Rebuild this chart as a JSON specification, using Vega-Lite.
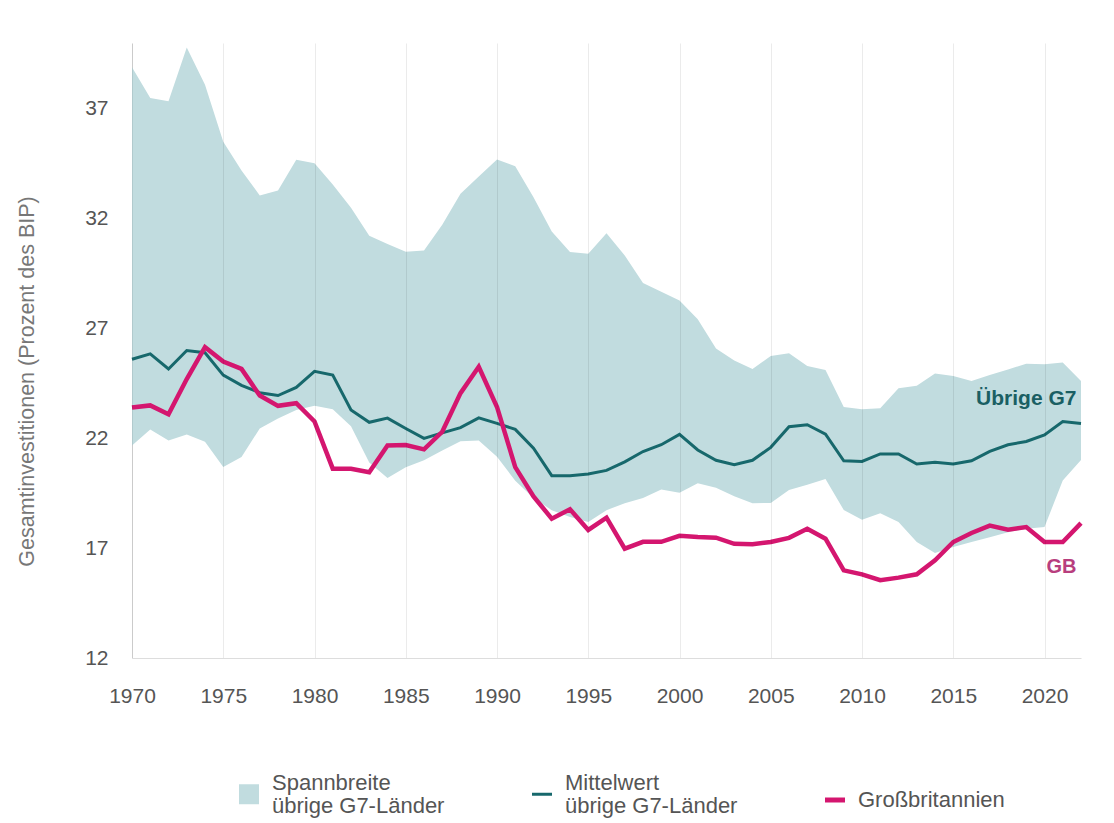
{
  "$schema": "https://vega.github.io/schema/vega-lite/v6.json",
  "autosize": "none",
  "width": 949,
  "height": 615,
  "padding": {"left": 132, "top": 43, "right": 33, "bottom": 165},
  "background": "white",
  "datasets": {
    "g7": [
      {"year": 1970, "low": 21.67, "high": 38.9, "mean": 25.6, "gb": 23.4},
      {"year": 1971, "low": 22.4, "high": 37.5, "mean": 25.85, "gb": 23.5},
      {"year": 1972, "low": 21.9, "high": 37.35, "mean": 25.16, "gb": 23.1},
      {"year": 1973, "low": 22.17, "high": 39.8, "mean": 26.0, "gb": 24.7},
      {"year": 1974, "low": 21.85, "high": 38.1, "mean": 25.9, "gb": 26.15},
      {"year": 1975, "low": 20.7, "high": 35.5, "mean": 24.88, "gb": 25.5},
      {"year": 1976, "low": 21.15, "high": 34.2, "mean": 24.41, "gb": 25.16},
      {"year": 1977, "low": 22.45, "high": 33.06, "mean": 24.08, "gb": 23.95},
      {"year": 1978, "low": 22.9, "high": 33.28, "mean": 23.95, "gb": 23.48},
      {"year": 1979, "low": 23.29, "high": 34.68, "mean": 24.32, "gb": 23.6},
      {"year": 1980, "low": 23.48, "high": 34.53, "mean": 25.05, "gb": 22.77},
      {"year": 1981, "low": 23.33, "high": 33.56, "mean": 24.88, "gb": 20.62},
      {"year": 1982, "low": 22.55, "high": 32.5, "mean": 23.29, "gb": 20.62},
      {"year": 1983, "low": 20.9, "high": 31.23, "mean": 22.73, "gb": 20.46},
      {"year": 1984, "low": 20.2, "high": 30.85, "mean": 22.92, "gb": 21.68},
      {"year": 1985, "low": 20.68, "high": 30.5, "mean": 22.45, "gb": 21.7},
      {"year": 1986, "low": 21.0, "high": 30.55, "mean": 22.0, "gb": 21.5},
      {"year": 1987, "low": 21.45, "high": 31.73, "mean": 22.25, "gb": 22.3},
      {"year": 1988, "low": 21.87, "high": 33.14, "mean": 22.49, "gb": 24.06},
      {"year": 1989, "low": 21.9, "high": 33.92, "mean": 22.93, "gb": 25.26},
      {"year": 1990, "low": 21.16, "high": 34.7, "mean": 22.68, "gb": 23.43},
      {"year": 1991, "low": 20.07, "high": 34.39, "mean": 22.41, "gb": 20.69},
      {"year": 1992, "low": 19.28, "high": 32.98, "mean": 21.55, "gb": 19.36},
      {"year": 1993, "low": 18.73, "high": 31.42, "mean": 20.3, "gb": 18.34},
      {"year": 1994, "low": 18.42, "high": 30.48, "mean": 20.3, "gb": 18.77},
      {"year": 1995, "low": 18.19, "high": 30.4, "mean": 20.38, "gb": 17.83},
      {"year": 1996, "low": 18.73, "high": 31.34, "mean": 20.54, "gb": 18.39},
      {"year": 1997, "low": 19.05, "high": 30.32, "mean": 20.93, "gb": 16.98},
      {"year": 1998, "low": 19.28, "high": 29.07, "mean": 21.4, "gb": 17.29},
      {"year": 1999, "low": 19.67, "high": 28.68, "mean": 21.71, "gb": 17.29},
      {"year": 2000, "low": 19.52, "high": 28.28, "mean": 22.18, "gb": 17.56},
      {"year": 2001, "low": 19.96, "high": 27.42, "mean": 21.47, "gb": 17.51},
      {"year": 2002, "low": 19.75, "high": 26.09, "mean": 21.0, "gb": 17.48},
      {"year": 2003, "low": 19.36, "high": 25.54, "mean": 20.8, "gb": 17.2},
      {"year": 2004, "low": 19.05, "high": 25.16, "mean": 21.0, "gb": 17.18},
      {"year": 2005, "low": 19.06, "high": 25.75, "mean": 21.59, "gb": 17.28},
      {"year": 2006, "low": 19.65, "high": 25.87, "mean": 22.53, "gb": 17.47},
      {"year": 2007, "low": 19.89, "high": 25.29, "mean": 22.62, "gb": 17.88},
      {"year": 2008, "low": 20.15, "high": 25.11, "mean": 22.19, "gb": 17.43},
      {"year": 2009, "low": 18.74, "high": 23.43, "mean": 20.98, "gb": 15.99},
      {"year": 2010, "low": 18.29, "high": 23.33, "mean": 20.95, "gb": 15.81},
      {"year": 2011, "low": 18.59, "high": 23.37, "mean": 21.29, "gb": 15.54},
      {"year": 2012, "low": 18.19, "high": 24.28, "mean": 21.29, "gb": 15.66},
      {"year": 2013, "low": 17.28, "high": 24.39, "mean": 20.83, "gb": 15.81},
      {"year": 2014, "low": 16.78, "high": 24.95, "mean": 20.91, "gb": 16.45},
      {"year": 2015, "low": 17.05, "high": 24.84, "mean": 20.83, "gb": 17.28},
      {"year": 2016, "low": 17.28, "high": 24.61, "mean": 20.98, "gb": 17.69},
      {"year": 2017, "low": 17.5, "high": 24.89, "mean": 21.41, "gb": 18.03},
      {"year": 2018, "low": 17.73, "high": 25.14, "mean": 21.71, "gb": 17.84},
      {"year": 2019, "low": 17.88, "high": 25.4, "mean": 21.86, "gb": 17.96},
      {"year": 2020, "low": 17.96, "high": 25.37, "mean": 22.16, "gb": 17.28},
      {"year": 2021, "low": 20.08, "high": 25.45, "mean": 22.77, "gb": 17.28},
      {"year": 2022, "low": 21.01, "high": 24.61, "mean": 22.68, "gb": 18.14}
    ],
    "labels": [
      {"year": 2021.75, "value": 23.8, "label": "Übrige G7"},
      {"year": 2021.75, "value": 16.13, "label": "GB"}
    ]
  },
  "data": {"name": "g7"},
  "encoding": {
    "x": {
      "field": "year",
      "type": "quantitative",
      "scale": {"domain": [1970, 2022], "nice": false, "zero": false},
      "axis": {
        "title": null,
        "values": [1970, 1975, 1980, 1985, 1990, 1995, 2000, 2005, 2010, 2015, 2020],
        "format": "d",
        "grid": true,
        "gridColor": "#000000",
        "gridOpacity": 0.08,
        "gridWidth": 1,
        "zindex": 1,
        "domainColor": "#dddddd",
        "ticks": false,
        "labelFlush": false,
        "labelOverlap": false,
        "labelFontSize": 21,
        "labelColor": "#555555",
        "labelPadding": 27
      }
    }
  },
  "layer": [
    {
      "mark": {"type": "area"},
      "encoding": {
        "y": {
          "field": "high",
          "type": "quantitative",
          "scale": {"domain": [12, 40], "nice": false, "zero": false},
          "axis": {
            "title": "Gesamtinvestitionen (Prozent des BIP)",
            "values": [12, 17, 22, 27, 32, 37],
            "grid": false,
            "ticks": false,
            "domainColor": "#dddddd",
            "labelFontSize": 21,
            "labelColor": "#555555",
            "labelPadding": 24,
            "titleFontSize": 21.5,
            "titleFontWeight": "normal",
            "titleColor": "#777777",
            "titleX": -105,
            "titleY": 338,
            "titleAngle": -90,
            "titleAlign": "center",
            "titleBaseline": "middle"
          }
        },
        "y2": {"field": "low"},
        "color": {
          "datum": "Spannbreite|übrige G7-Länder",
          "scale": {
            "domain": ["Spannbreite|übrige G7-Länder", "Mittelwert|übrige G7-Länder", "Großbritannien"],
            "range": ["#c1dcdf", "#17686c", "#d4166f"]
          },
          "legend": {
            "title": null,
            "orient": "none",
            "legendX": 106,
            "legendY": 740,
            "direction": "horizontal",
            "columns": 3,
            "gridAlign": "all",
            "columnPadding": 77,
            "padding": 0,
            "labelFontSize": 22,
            "labelColor": "#555555",
            "labelOffset": 12,
            "labelLimit": 300,
            "labelExpr": "split(datum.label, '|')",
            "symbolSize": 400,
            "symbolOpacity": 1,
            "symbolType": {"expr": "datum.value === 'Spannbreite|übrige G7-Länder' ? 'square' : 'stroke'"},
            "symbolStrokeWidth": {"expr": "datum.value === 'Großbritannien' ? 5 : datum.value === 'Mittelwert|übrige G7-Länder' ? 3 : 0"},
            "symbolStrokeColor": {"expr": "datum.value === 'Großbritannien' ? '#d4166f' : datum.value === 'Mittelwert|übrige G7-Länder' ? '#17686c' : '#c1dcdf'"},
            "encode": {
              "labels": {
                "update": {
                  "lineHeight": {"value": 23},
                  "dy": {"signal": "datum.value === 'Großbritannien' ? 0 : -11.5"}
                }
              }
            }
          }
        }
      }
    },
    {
      "mark": {"type": "line", "strokeWidth": 3},
      "encoding": {
        "y": {"field": "mean", "type": "quantitative"},
        "color": {"datum": "Mittelwert|übrige G7-Länder"}
      }
    },
    {
      "mark": {"type": "line", "strokeWidth": 4.5},
      "encoding": {
        "y": {"field": "gb", "type": "quantitative"},
        "color": {"datum": "Großbritannien"}
      }
    },
    {
      "data": {"name": "labels"},
      "transform": [{"filter": "datum.label === 'Übrige G7'"}],
      "mark": {"type": "text", "align": "right", "baseline": "middle", "fontSize": 21, "fontWeight": "bold", "color": "#1a5f63"},
      "encoding": {
        "y": {"field": "value", "type": "quantitative"},
        "text": {"field": "label"}
      }
    },
    {
      "data": {"name": "labels"},
      "transform": [{"filter": "datum.label === 'GB'"}],
      "mark": {"type": "text", "align": "right", "baseline": "middle", "fontSize": 20, "fontWeight": "bold", "color": "#b83e7e"},
      "encoding": {
        "y": {"field": "value", "type": "quantitative"},
        "text": {"field": "label"}
      }
    }
  ],
  "config": {
    "font": "Liberation Sans",
    "view": {"stroke": null}
  }
}
